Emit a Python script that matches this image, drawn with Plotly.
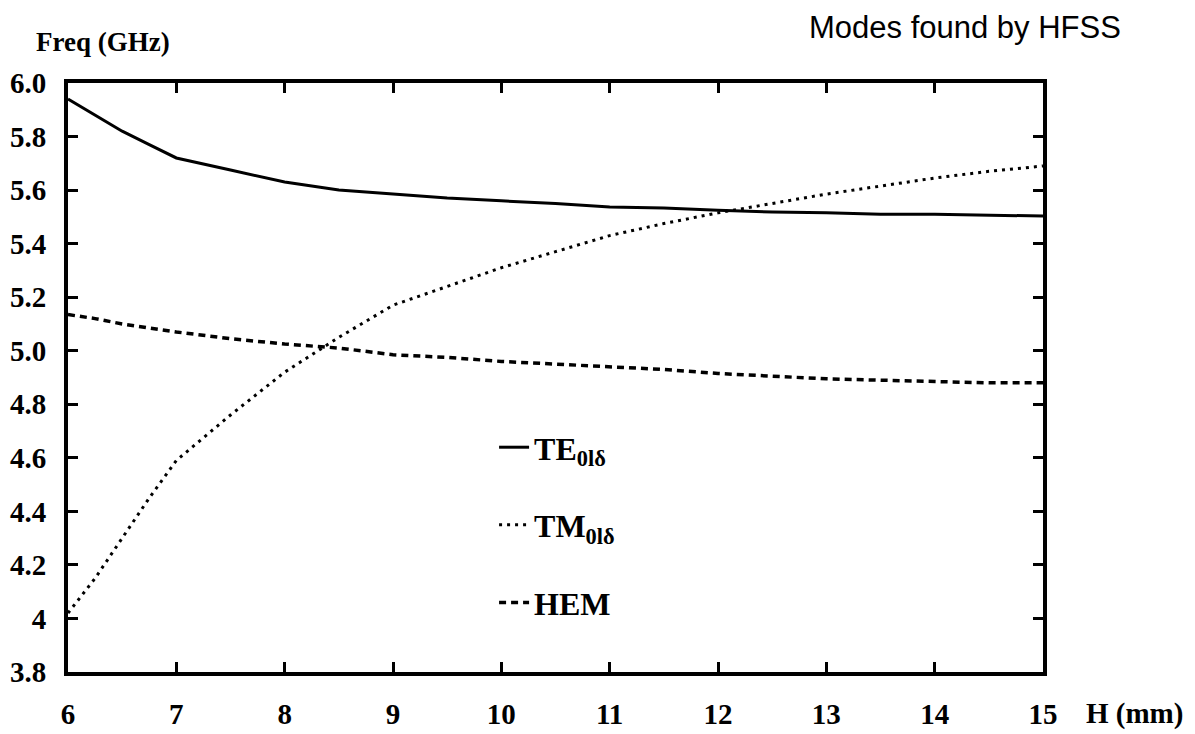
import plotly.graph_objects as go

# Resonator height H (mm)
H = [6, 6.25, 6.5, 6.75, 7, 7.5, 8, 8.5, 9, 9.5, 10, 10.5, 11, 11.5,
     12, 12.5, 13, 13.5, 14, 14.5, 15]

# Resonant frequencies (GHz) of the three modes
te01d = [5.94, 5.88, 5.82, 5.77, 5.72, 5.675, 5.63, 5.60, 5.585, 5.57, 5.56,
         5.55, 5.537, 5.533, 5.525, 5.518, 5.515, 5.51, 5.51, 5.507, 5.503]
tm01d = [4.02, 4.15, 4.30, 4.45, 4.59, 4.76, 4.92, 5.05, 5.17, 5.24, 5.31,
         5.37, 5.43, 5.475, 5.515, 5.55, 5.585, 5.615, 5.645, 5.67, 5.69]
hem = [5.135, 5.12, 5.10, 5.085, 5.07, 5.045, 5.025, 5.01, 4.985, 4.975, 4.96,
       4.95, 4.94, 4.93, 4.915, 4.905, 4.895, 4.89, 4.885, 4.88, 4.88]

x_ticks = [6, 7, 8, 9, 10, 11, 12, 13, 14, 15]
y_ticks = [3.8, 4.0, 4.2, 4.4, 4.6, 4.8, 5.0, 5.2, 5.4, 5.6, 5.8, 6.0]
y_ticktext = ["3.8", "4", "4.2", "4.4", "4.6", "4.8", "5.0", "5.2", "5.4",
              "5.6", "5.8", "6.0"]

SERIF = "Liberation Serif"

fig = go.Figure()
fig.add_trace(go.Scatter(x=H, y=te01d, mode="lines", name="TE<sub>0lδ</sub>",
                         legendgroup="te", line=dict(color="black", width=3)))
fig.add_trace(go.Scatter(x=H, y=tm01d, mode="lines", name="TM<sub>0lδ</sub>",
                         legendgroup="tm",
                         line=dict(color="black", width=3, dash="3px,5px")))
fig.add_trace(go.Scatter(x=H, y=hem, mode="lines", name="HEM",
                         legendgroup="hem",
                         line=dict(color="black", width=3.5, dash="7px,5px")))

axis_common = dict(
    showline=True, linecolor="black", linewidth=4, mirror="ticks",
    ticks="inside", ticklen=10, tickwidth=3, tickcolor="black",
    showgrid=False, zeroline=False, automargin=False,
    tickfont=dict(family=SERIF, size=29, color="black", weight="bold"),
)

fig.update_xaxes(range=[6, 15], tickvals=x_ticks,
                 ticktext=[str(v) for v in x_ticks],
                 ticklabelstandoff=13, **axis_common)
fig.update_yaxes(range=[3.8, 6.0], tickvals=y_ticks, ticktext=y_ticktext,
                 ticklabelstandoff=12, **axis_common)

fig.add_annotation(text="Freq (GHz)", xref="paper", yref="paper",
                   x=0.036, y=1.07, xanchor="center", yanchor="middle",
                   showarrow=False,
                   font=dict(family=SERIF, size=27, color="black", weight="bold"))
fig.add_annotation(text="H (mm)", xref="paper", yref="paper",
                   x=1.094, y=-0.07, xanchor="center", yanchor="middle",
                   showarrow=False,
                   font=dict(family=SERIF, size=29, color="black", weight="bold"))
fig.add_annotation(text="Modes found by HFSS", xref="paper", yref="paper",
                   x=0.92, y=1.095, xanchor="center", yanchor="middle",
                   showarrow=False,
                   font=dict(family="Liberation Sans", size=31, color="black"))

fig.update_layout(
    width=1195, height=734,
    margin=dict(l=68, r=152, t=83, b=62),
    paper_bgcolor="white", plot_bgcolor="white",
    showlegend=True,
    legend=dict(x=0.437, y=0.428, xanchor="left", yanchor="top",
                bgcolor="rgba(0,0,0,0)", tracegroupgap=33,
                traceorder="grouped",
                font=dict(family=SERIF, size=32, color="black", weight="bold")),
)

fig.write_html("out.html")
